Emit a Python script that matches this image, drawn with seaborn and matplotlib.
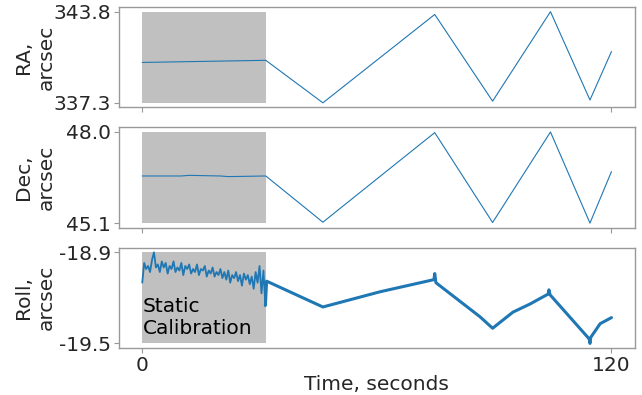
import numpy as np
import pandas as pd
import seaborn as sns
import matplotlib
matplotlib.use("Agg")
import matplotlib.pyplot as plt

# values (time in seconds, angles in arcsec)
cal_end = 31.6

ra_t = [0, 31.6, 46.2, 74.8, 89.6, 104.4, 114.5, 120]
ra_v = [340.18, 340.33, 337.3, 343.6, 337.42, 343.8, 337.5, 340.96]

dec_t = [0, 10, 12, 20, 22, 31.6, 46.2, 74.8, 89.6, 104.4, 114.5, 120]
dec_v = [46.6, 46.6, 46.62, 46.6, 46.58, 46.6, 45.13, 47.98, 45.12, 48.0, 45.1, 46.74]

# static calibration part of roll (noisy), sampled every half second
roll_cal_t = [0.0, 0.5, 1.0, 1.5, 2.0, 2.5, 3.0, 3.5, 4.0, 4.5, 5.0, 5.5, 6.0, 6.5,
              7.0, 7.5, 8.0, 8.5, 9.0, 9.5, 10.0, 10.5, 11.0, 11.5, 12.0, 12.5,
              13.0, 13.5, 14.0, 14.5, 15.0, 15.5, 16.0, 16.5, 17.0, 17.5, 18.0,
              18.5, 19.0, 19.5, 20.0, 20.5, 21.0, 21.5, 22.0, 22.5, 23.0, 23.5,
              24.0, 24.5, 25.0, 25.5, 26.0, 26.5, 27.0, 27.5, 28.0, 28.5, 29.0,
              29.5, 30.0, 30.5, 31.0, 31.5]
roll_cal_v = [-19.10, -18.97, -19.01, -18.99, -19.03, -18.95, -18.90, -19.00,
              -18.98, -19.03, -18.96, -19.00, -18.97, -19.04, -18.99, -19.01,
              -18.96, -19.03, -19.00, -19.02, -18.97, -19.05, -18.99, -19.01,
              -18.98, -19.04, -19.01, -19.03, -18.98, -19.05, -19.01, -19.02,
              -18.99, -19.06, -19.02, -19.04, -19.00, -19.06, -19.03, -19.05,
              -19.01, -19.07, -19.03, -19.08, -19.02, -19.10, -19.05, -19.07,
              -19.03, -19.09, -19.05, -19.12, -19.04, -19.08, -19.05, -19.11,
              -19.06, -19.14, -19.03, -19.10, -18.99, -19.17, -19.02, -19.25]
# manoeuvre part of roll
roll_t = [31.5, 31.8, 46.2, 60.8, 74.6, 74.8, 75.1, 86.4, 89.6, 94.8, 99.2, 103.8,
          104.0, 104.3, 114.3, 114.5, 114.7, 117.1, 120]
roll_v = [-19.25, -19.09, -19.26, -19.16, -19.08, -19.04, -19.10, -19.325, -19.40,
          -19.294, -19.24, -19.175, -19.147, -19.18, -19.47, -19.50, -19.46,
          -19.37, -19.33]

sns.set_style("white")
plt.rcParams["font.family"] = ["DejaVu Sans"]
plt.rcParams["axes.unicode_minus"] = False

fs = 14.5
fig, axes = plt.subplots(3, 1, figsize=(6.42, 3.95), dpi=100, sharex=True)
fig.subplots_adjust(left=0.185, right=0.989, top=0.982, bottom=0.119, hspace=0.2)

panels = [
    (axes[0], "RA,\narcsec", [(ra_t, ra_v, 0.8)]),
    (axes[1], "Dec,\narcsec", [(dec_t, dec_v, 0.8)]),
    (axes[2], "Roll,\narcsec", [(roll_cal_t, roll_cal_v, 1.3), (roll_t, roll_v, 2.2)]),
]

for ax, label, series in panels:
    allv = np.concatenate([np.array(s[1]) for s in series])
    vmin, vmax = allv.min(), allv.max()
    ax.fill_between([0, cal_end], vmin, vmax, color="silver", lw=0, zorder=1)
    for t, v, lw in series:
        df = pd.DataFrame({"t": t, "v": v})
        sns.lineplot(data=df, x="t", y="v", ax=ax, color="#1f77b4", lw=lw,
                     sort=False, zorder=3)
    ax.set_yticks([vmin, vmax])
    ax.set_yticklabels([f"{vmin:.1f}", f"{vmax:.1f}"])
    ax.set_xlabel("")
    ax.set_ylabel(label, fontsize=fs)
    ax.yaxis.set_label_coords(-0.123, 0.5)
    ax.tick_params(axis="both", labelsize=fs, length=3.5, width=0.8,
                   color="0.6", left=True, bottom=True, pad=2)
    for sp in ax.spines.values():
        sp.set_color("0.6")
        sp.set_linewidth(1.0)

axes[2].set_xticks([0, 120])
axes[2].set_xlim(-6, 126)
axes[2].set_xlabel("Time, seconds", fontsize=fs, labelpad=0)
axes[2].text(0.1, -19.44, "Static\nCalibration", fontsize=fs, va="baseline",
             ha="left", color="black", zorder=4)

fig.savefig("out.png", dpi=100)
